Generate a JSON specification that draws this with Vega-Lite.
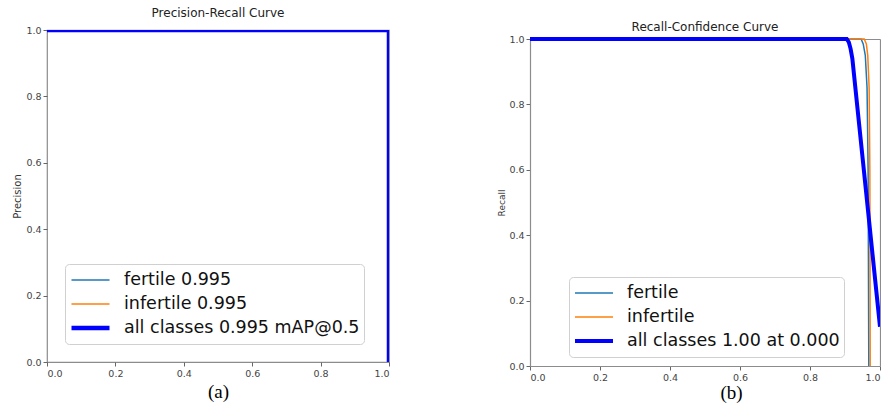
{
  "$schema": "https://vega.github.io/schema/vega-lite/v6.json",
  "background": "white",
  "padding": {"left": 12, "top": 6, "right": 0, "bottom": 0},
  "spacing": 106,
  "datasets": {
    "pr": [
      {"series": "fertile 0.995", "i": 0, "recall": 0, "precision": 1},
      {"series": "fertile 0.995", "i": 1, "recall": 1, "precision": 1},
      {"series": "fertile 0.995", "i": 2, "recall": 1, "precision": 0},
      {"series": "infertile 0.995", "i": 0, "recall": 0, "precision": 1},
      {"series": "infertile 0.995", "i": 1, "recall": 1, "precision": 1},
      {"series": "infertile 0.995", "i": 2, "recall": 1, "precision": 0},
      {"series": "all classes 0.995 mAP@0.5", "i": 0, "recall": 0, "precision": 1},
      {"series": "all classes 0.995 mAP@0.5", "i": 1, "recall": 1, "precision": 1},
      {"series": "all classes 0.995 mAP@0.5", "i": 2, "recall": 1, "precision": 0}
    ],
    "rc": [
      {"series": "fertile", "i": 0, "confidence": 0, "recall": 1},
      {"series": "fertile", "i": 1, "confidence": 0.946, "recall": 1},
      {"series": "fertile", "i": 2, "confidence": 0.952, "recall": 0.985},
      {"series": "fertile", "i": 3, "confidence": 0.958, "recall": 0.95},
      {"series": "fertile", "i": 4, "confidence": 0.963, "recall": 0.85},
      {"series": "fertile", "i": 5, "confidence": 0.966, "recall": 0.6},
      {"series": "fertile", "i": 6, "confidence": 0.968, "recall": 0},
      {"series": "infertile", "i": 0, "confidence": 0, "recall": 1},
      {"series": "infertile", "i": 1, "confidence": 0.955, "recall": 1},
      {"series": "infertile", "i": 2, "confidence": 0.961, "recall": 0.985},
      {"series": "infertile", "i": 3, "confidence": 0.965, "recall": 0.95},
      {"series": "infertile", "i": 4, "confidence": 0.969, "recall": 0.85},
      {"series": "infertile", "i": 5, "confidence": 0.971, "recall": 0.6},
      {"series": "infertile", "i": 6, "confidence": 0.972, "recall": 0},
      {"series": "all classes 1.00 at 0.000", "i": 0, "confidence": 0, "recall": 1},
      {"series": "all classes 1.00 at 0.000", "i": 1, "confidence": 0.905, "recall": 1},
      {"series": "all classes 1.00 at 0.000", "i": 2, "confidence": 0.911, "recall": 0.99},
      {"series": "all classes 1.00 at 0.000", "i": 3, "confidence": 0.916, "recall": 0.97},
      {"series": "all classes 1.00 at 0.000", "i": 4, "confidence": 0.921, "recall": 0.94},
      {"series": "all classes 1.00 at 0.000", "i": 5, "confidence": 1.0, "recall": 0.12}
    ]
  },
  "resolve": {
    "scale": {"color": "independent", "strokeWidth": "independent", "x": "independent", "y": "independent"},
    "legend": {"color": "independent", "strokeWidth": "independent"}
  },
  "config": {
    "font": "DejaVu Sans",
    "view": {"stroke": "#8c8c8c", "strokeWidth": 1.2},
    "axis": {
      "domain": false,
      "domainColor": "#8c8c8c",
      "domainWidth": 1.2,
      "grid": false,
      "labelFont": "DejaVu Sans",
      "labelFontSize": 9.5,
      "labelColor": "#444",
      "labelPadding": 2,
      "tickColor": "#666",
      "tickSize": 4,
      "titleFontWeight": "normal",
      "titleColor": "#333"
    },
    "title": {"font": "DejaVu Sans", "fontSize": 12, "fontWeight": "normal", "color": "#222", "offset": 5},
    "legend": {
      "orient": "none",
      "title": null,
      "labelFont": "DejaVu Sans",
      "labelFontSize": 17.5,
      "labelColor": "#111",
      "labelLimit": 400,
      "labelOffset": 12,
      "symbolType": "stroke",
      "symbolSize": 1444,
      "clipHeight": 24,
      "rowPadding": 0,
      "padding": 4,
      "fillColor": "white",
      "strokeColor": "#d0d0d0",
      "cornerRadius": 4
    }
  },
  "hconcat": [
    {
      "width": 342,
      "height": 332,
      "title": {"text": "Precision-Recall Curve"},
      "data": {"name": "pr"},
      "mark": {"type": "line", "clip": true},
      "encoding": {
        "x": {
          "field": "recall", "type": "quantitative",
          "scale": {"domain": [0, 1], "nice": false, "zero": false},
          "axis": {"values": [0, 0.2, 0.4, 0.6, 0.8, 1], "format": ".1f", "title": "(a)", "titleFont": "Liberation Serif", "titleFontSize": 19, "titleColor": "#000", "titlePadding": 5}
        },
        "y": {
          "field": "precision", "type": "quantitative",
          "scale": {"domain": [0, 1], "nice": false},
          "axis": {"values": [0, 0.2, 0.4, 0.6, 0.8, 1], "format": ".1f", "title": "Precision", "titleFontSize": 10, "titlePadding": 3}
        },
        "color": {
          "field": "series", "type": "ordinal",
          "scale": {"type": "ordinal", "domain": ["fertile 0.995", "infertile 0.995", "all classes 0.995 mAP@0.5"], "range": ["#1f77b4", "#ff7f0e", "#0000ff"]},
          "legend": {"legendX": 18, "legendY": 234}
        },
        "strokeWidth": {
          "field": "series", "type": "ordinal",
          "scale": {"type": "ordinal", "domain": ["fertile 0.995", "infertile 0.995", "all classes 0.995 mAP@0.5"], "range": [1.5, 1.5, 4.5]},
          "legend": {"legendX": 18, "legendY": 234}
        },
        "order": {"field": "i", "type": "quantitative"}
      }
    },
    {
      "width": 350,
      "height": 336,
      "view": {"stroke": null},
      "title": {"text": "Recall-Confidence Curve", "dy": 9},
      "data": {"name": "rc"},
      "resolve": {"axis": {"x": "independent", "y": "independent"}},
      "layer": [
        {
          "mark": {"type": "line", "clip": true},
          "encoding": {
            "x": {
              "field": "confidence", "type": "quantitative",
              "scale": {"domain": [0, 1], "nice": false, "zero": false},
              "axis": {"domain": true, "values": [0, 0.2, 0.4, 0.6, 0.8, 1], "format": ".1f", "title": "(b)", "titleFont": "Liberation Serif", "titleFontSize": 19, "titleColor": "#000", "titlePadding": 2, "titleX": 201}
            },
            "y": {
              "field": "recall", "type": "quantitative",
              "scale": {"domain": [0, 1], "nice": false, "range": [336, 9]},
              "axis": {"domain": true, "values": [0, 0.2, 0.4, 0.6, 0.8, 1], "format": ".1f", "title": "Recall", "titleFontSize": 9, "titlePadding": 2}
            },
            "color": {
              "field": "series", "type": "ordinal",
              "scale": {"type": "ordinal", "domain": ["fertile", "infertile", "all classes 1.00 at 0.000"], "range": ["#1f77b4", "#ff7f0e", "#0000ff"]},
              "legend": {"legendX": 39, "legendY": 247}
            },
            "strokeWidth": {
              "field": "series", "type": "ordinal",
              "scale": {"type": "ordinal", "domain": ["fertile", "infertile", "all classes 1.00 at 0.000"], "range": [1.5, 1.5, 4]},
              "legend": {"legendX": 39, "legendY": 247}
            },
            "order": {"field": "i", "type": "quantitative"}
          }
        },
        {
          "mark": {"type": "line", "opacity": 0},
          "encoding": {
            "x": {
              "field": "confidence", "type": "quantitative",
              "axis": {"orient": "top", "offset": -9, "domain": true, "labels": false, "ticks": false, "title": null}
            },
            "y": {
              "field": "recall", "type": "quantitative",
              "axis": {"orient": "right", "domain": true, "labels": false, "ticks": false, "title": null}
            },
            "detail": {"field": "series"},
            "order": {"field": "i", "type": "quantitative"}
          }
        }
      ]
    }
  ]
}
